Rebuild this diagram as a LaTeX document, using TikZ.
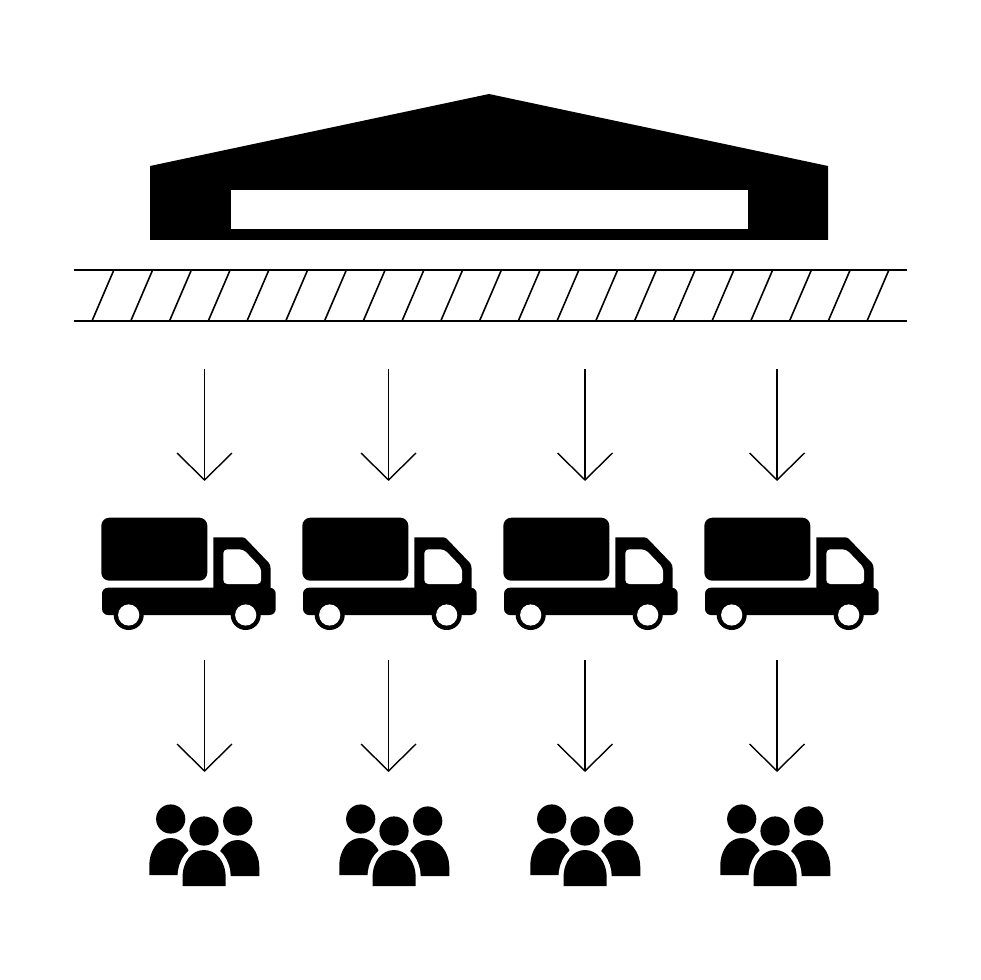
\documentclass[tikz,border=0pt]{standalone}
\begin{document}
\begin{tikzpicture}[x=0.75pt,y=-0.75pt,
  road/.style={black,line width=1.3pt},
  hatchline/.style={black,line width=1.2pt},
  flowline/.style={black,line width=1.05pt},
  halo/.style={draw=white,line width=7.5pt},
  truck/.pic={
    \fill[black,rounded corners=8*0.75pt] (101.3,517.7) rectangle (207.3,580.7);
    \fill[black] (213.3,600) -- (213.3,537.3) -- (242,537.3) .. controls (244,537.3) and (245,538) .. (246,539) -- (268.5,562.5) .. controls (270,564) and (270.5,566) .. (270.5,568) -- (270.5,600) -- cycle;
    \fill[black,rounded corners=6*0.75pt] (102,587.7) rectangle (275.7,615);
    \fill[white,rounded corners=4*0.75pt] (223.3,584) -- (223.3,549.3) -- (243.3,549.3) -- (261.2,568) -- (261.2,584) -- cycle;
    \foreach \wx in {128.7,245.7}{
      \fill[black] (\wx,615) circle[radius=15];
      \fill[white] (\wx,615) circle[radius=10.6];
    }
  },
  crowd/.pic={
    \fill[black] (170.7,819) circle[radius=14.6];
    \fill[black] (237.7,821) circle[radius=14.6];
    \fill[black] (149.3,875) -- (149.3,866) .. controls (149.3,849) and (159,838) .. (170.7,838) .. controls (182,838) and (192,849) .. (192,866) -- (192,875) -- cycle;
    \fill[black] (216,876) -- (216,868) .. controls (216,851) and (226,840) .. (237.7,840) .. controls (249,840) and (259.3,851) .. (259.3,868) -- (259.3,876) -- cycle;
    \path[halo] (182.5,886) -- (182.5,878) .. controls (182.5,861) and (192,850) .. (204,850) .. controls (216,850) and (225.7,861) .. (225.7,878) -- (225.7,886) -- cycle;
    \fill[black] (182.5,886) -- (182.5,878) .. controls (182.5,861) and (192,850) .. (204,850) .. controls (216,850) and (225.7,861) .. (225.7,878) -- (225.7,886) -- cycle;
    \fill[black] (204,831) circle[radius=14.6];
  }
]
\fill[white] (0,0) rectangle (980,980);
\useasboundingbox (0,0) rectangle (980,980);
% warehouse
\fill[black] (150,240) -- (150,166) -- (489,94) -- (828,166) -- (828,240) -- cycle;
\fill[white] (231,190) rectangle (748,229);
% road
\coordinate (roadTL) at (73.5,269.7);
\coordinate (roadTR) at (906.5,269.7);
\coordinate (roadBL) at (73.5,321);
\coordinate (roadBR) at (906.5,321);
\draw[road] (roadTL) -- (roadTR);
\draw[road] (roadBL) -- (roadBR);
\foreach \i in {0,...,20}{
  \draw[hatchline] ({114+38.75*\i},269.7) -- ({92+38.75*\i},321);
}
% arrows
\foreach \ax/\nm in {204.5/a,388.5/b,585/c,777/d}{
  \coordinate (\nm1s) at (\ax,369);
  \coordinate (\nm1e) at (\ax,480);
  \coordinate (\nm2s) at (\ax,660);
  \coordinate (\nm2e) at (\ax,771);
  \draw[flowline] (\nm1s) -- (\nm1e);
  \draw[flowline,line join=miter] ([shift={(-27.5,-27)}]\nm1e) -- (\nm1e) -- ([shift={(27.5,-27)}]\nm1e);
  \draw[flowline] (\nm2s) -- (\nm2e);
  \draw[flowline,line join=miter] ([shift={(-27.5,-27)}]\nm2e) -- (\nm2e) -- ([shift={(27.5,-27)}]\nm2e);
}
% trucks
\foreach \o in {0,201,402,603}{
  \path (\o,0) pic {truck};
}
% people
\foreach \o in {0,190,381,571}{
  \path (\o,0) pic {crowd};
}
\end{tikzpicture}
\end{document}
